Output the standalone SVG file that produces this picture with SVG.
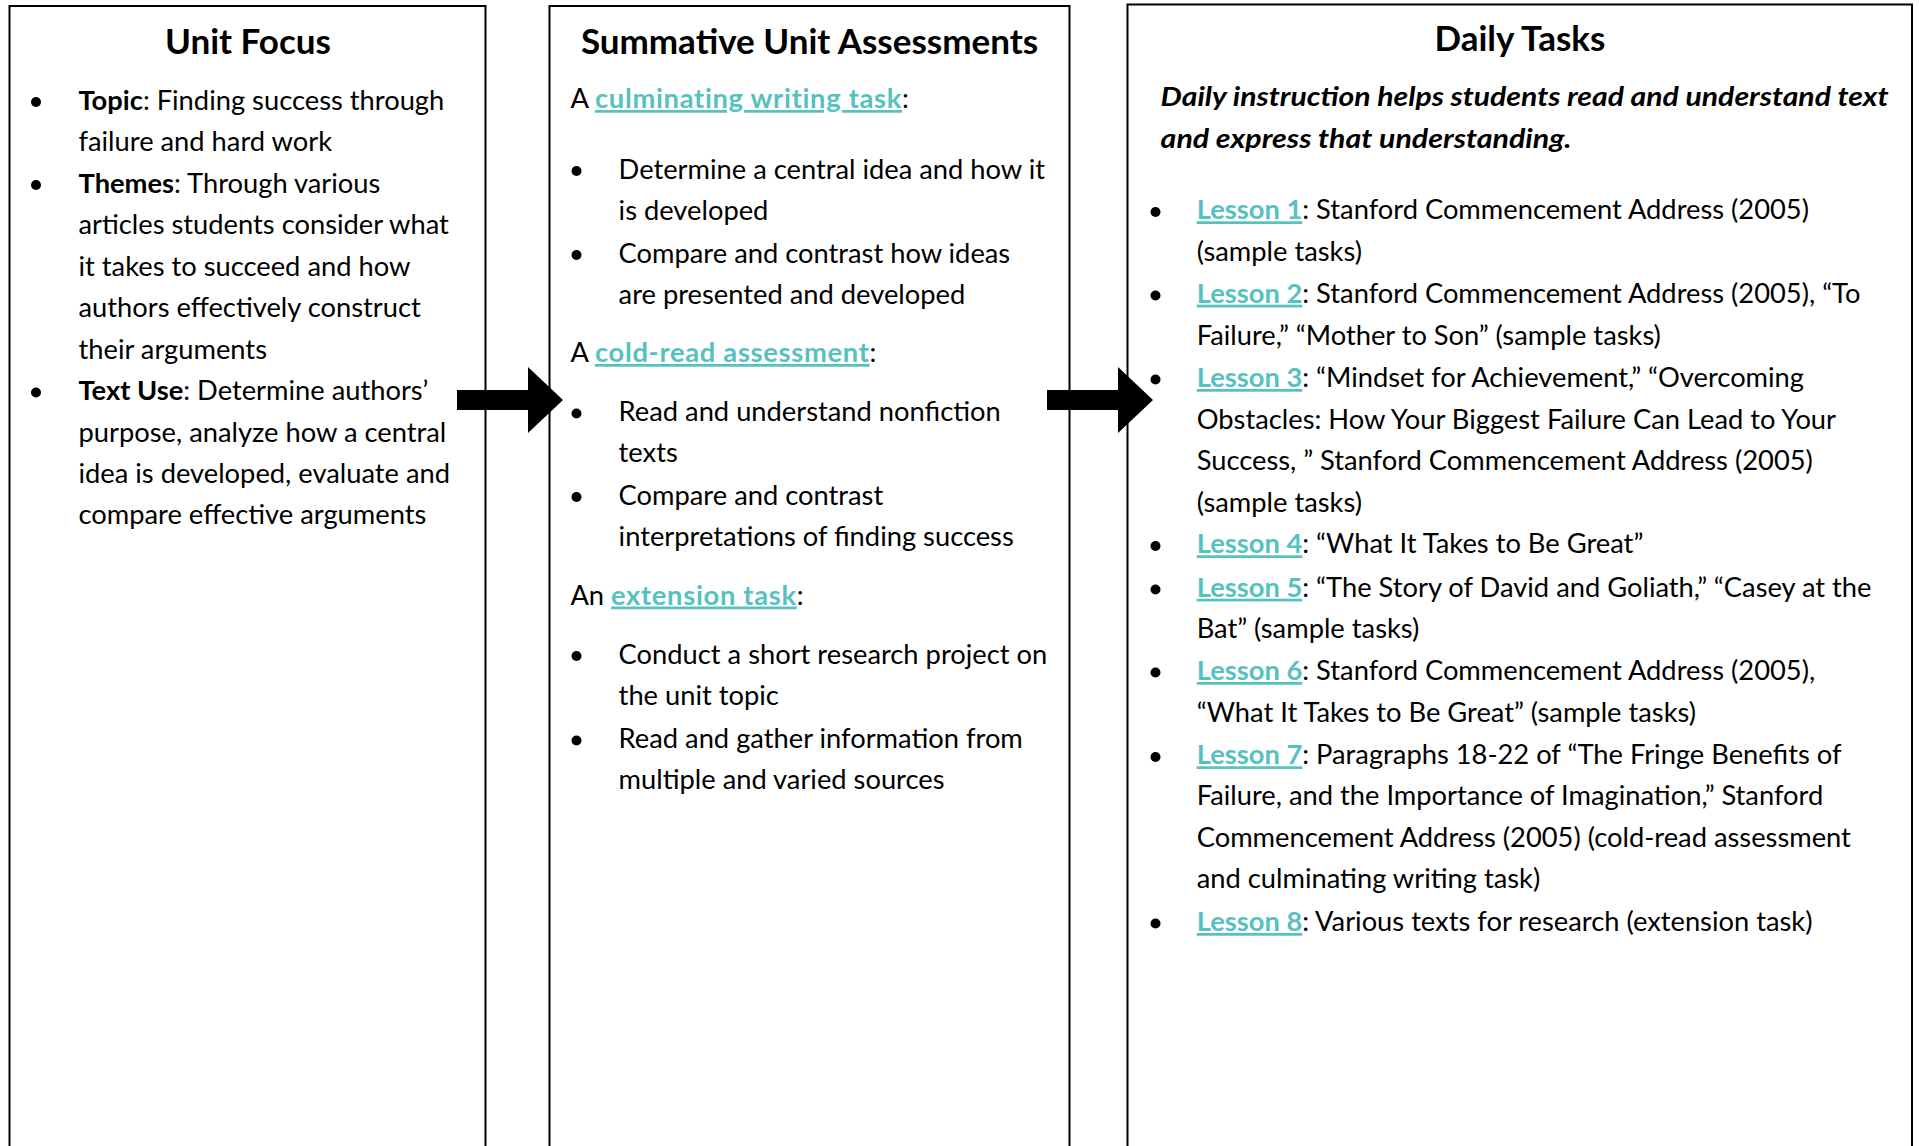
<svg xmlns="http://www.w3.org/2000/svg" width="1919" height="1146" viewBox="0 0 1919 1146">
<style>
.box{fill:#fff;stroke:#000;stroke-width:2}
.t{font-family:Lato,"Liberation Sans",sans-serif;font-size:27.3px;fill:#000}
.h{font-family:Lato,"Liberation Sans",sans-serif;font-size:35px;font-weight:bold;fill:#000;text-anchor:middle}
.b{font-weight:bold}
.lk{font-weight:bold;fill:#56C1BF;text-decoration:underline}
.ls{letter-spacing:0.7px}
.it{font-style:italic;font-weight:bold}
.dot{fill:#000}
.arrow{fill:#000}
</style>
<rect x="0" y="0" width="1919" height="1146" fill="#fff"/>
<g id="node-unit-focus">
<rect class="box" x="9.5" y="6" width="476" height="1200"/>
<text class="h" x="248" y="54">Unit Focus</text>
<circle class="dot" cx="36" cy="102" r="5"/>
<circle class="dot" cx="36" cy="185" r="5"/>
<circle class="dot" cx="36" cy="392.5" r="5"/>
<text class="t" x="78.5" y="109.5"><tspan class="b">Topic</tspan>: Finding success through</text>
<text class="t" x="78.5" y="151">failure and hard work</text>
<text class="t" x="78.5" y="192.5"><tspan class="b">Themes</tspan>: Through various</text>
<text class="t" x="78.5" y="234">articles students consider what</text>
<text class="t" x="78.5" y="275.5">it takes to succeed and how</text>
<text class="t" x="78.5" y="317">authors effectively construct</text>
<text class="t" x="78.5" y="358.5">their arguments</text>
<text class="t" x="78.5" y="400"><tspan class="b">Text Use</tspan>: Determine authors’</text>
<text class="t" x="78.5" y="441.5">purpose, analyze how a central</text>
<text class="t" x="78.5" y="483">idea is developed, evaluate and</text>
<text class="t" x="78.5" y="524">compare effective arguments</text>
</g>
<g id="node-summative">
<rect class="box" x="549.5" y="6" width="520" height="1200"/>
<text class="h" x="809.5" y="54">Summative Unit Assessments</text>
<text class="t" x="570.4" y="108">A <tspan class="lk ls">culminating writing task</tspan>:</text>
<circle class="dot" cx="576.5" cy="171" r="5"/>
<circle class="dot" cx="576.5" cy="255" r="5"/>
<text class="t" x="618.6" y="178.5">Determine a central idea and how it</text>
<text class="t" x="618.6" y="219.5">is developed</text>
<text class="t" x="618.6" y="262.5">Compare and contrast how ideas</text>
<text class="t" x="618.6" y="304">are presented and developed</text>
<text class="t" x="570.4" y="362">A <tspan class="lk ls">cold-read assessment</tspan>:</text>
<circle class="dot" cx="576.5" cy="413.5" r="5"/>
<circle class="dot" cx="576.5" cy="497" r="5"/>
<text class="t" x="618.6" y="421">Read and understand nonfiction</text>
<text class="t" x="618.6" y="462">texts</text>
<text class="t" x="618.6" y="504.5">Compare and contrast</text>
<text class="t" x="618.6" y="546">interpretations of finding success</text>
<text class="t" x="570.4" y="604.5">An <tspan class="lk ls">extension task</tspan>:</text>
<circle class="dot" cx="576.5" cy="656" r="5"/>
<circle class="dot" cx="576.5" cy="740.5" r="5"/>
<text class="t" x="618.6" y="663.5">Conduct a short research project on</text>
<text class="t" x="618.6" y="705">the unit topic</text>
<text class="t" x="618.6" y="748">Read and gather information from</text>
<text class="t" x="618.6" y="789">multiple and varied sources</text>
</g>
<g id="node-daily-tasks">
<rect class="box" x="1127.5" y="4.5" width="784.5" height="1200"/>
<text class="h" x="1520" y="51">Daily Tasks</text>
<text class="t it" x="1160.6" y="106" textLength="728" lengthAdjust="spacingAndGlyphs">Daily instruction helps students read and understand text</text>
<text class="t it" x="1160.6" y="147.7" textLength="411" lengthAdjust="spacingAndGlyphs">and express that understanding.</text>
<circle class="dot" cx="1155.5" cy="212" r="5"/>
<circle class="dot" cx="1155.5" cy="295.5" r="5"/>
<circle class="dot" cx="1155.5" cy="379.5" r="5"/>
<circle class="dot" cx="1155.5" cy="546" r="5"/>
<circle class="dot" cx="1155.5" cy="589.5" r="5"/>
<circle class="dot" cx="1155.5" cy="672.5" r="5"/>
<circle class="dot" cx="1155.5" cy="757" r="5"/>
<circle class="dot" cx="1155.5" cy="923.5" r="5"/>
<text class="t" x="1196.7" y="219.3"><tspan class="lk">Lesson 1</tspan>: Stanford Commencement Address (2005)</text>
<text class="t" x="1196.7" y="261">(sample tasks)</text>
<text class="t" x="1196.7" y="302.7"><tspan class="lk">Lesson 2</tspan>: Stanford Commencement Address (2005), “To</text>
<text class="t" x="1196.7" y="345">Failure,” “Mother to Son” (sample tasks)</text>
<text class="t" x="1196.7" y="387"><tspan class="lk">Lesson 3</tspan>: “Mindset for Achievement,” “Overcoming</text>
<text class="t" x="1196.7" y="428.7">Obstacles: How Your Biggest Failure Can Lead to Your</text>
<text class="t" x="1196.7" y="470.3">Success, ” Stanford Commencement Address (2005)</text>
<text class="t" x="1196.7" y="512">(sample tasks)</text>
<text class="t" x="1196.7" y="553.3"><tspan class="lk">Lesson 4</tspan>: “What It Takes to Be Great”</text>
<text class="t" x="1196.7" y="596.7"><tspan class="lk">Lesson 5</tspan>: “The Story of David and Goliath,” “Casey at the</text>
<text class="t" x="1196.7" y="637.7">Bat” (sample tasks)</text>
<text class="t" x="1196.7" y="680"><tspan class="lk">Lesson 6</tspan>: Stanford Commencement Address (2005),</text>
<text class="t" x="1196.7" y="721.7">“What It Takes to Be Great” (sample tasks)</text>
<text class="t" x="1196.7" y="764.3"><tspan class="lk">Lesson 7</tspan>: Paragraphs 18-22 of “The Fringe Benefits of</text>
<text class="t" x="1196.7" y="805.3">Failure, and the Importance of Imagination,” Stanford</text>
<text class="t" x="1196.7" y="846.7">Commencement Address (2005) (cold-read assessment</text>
<text class="t" x="1196.7" y="888.3">and culminating writing task)</text>
<text class="t" x="1196.7" y="931"><tspan class="lk">Lesson 8</tspan>: Various texts for research (extension task)</text>
</g>
<g id="connectors">
<polygon class="arrow" points="457,390 528,390 528,367 563,400 528,433 528,410 457,410"/>
<polygon class="arrow" points="1047,390 1118,390 1118,367 1153,400 1118,433 1118,410 1047,410"/>
</g>
</svg>
